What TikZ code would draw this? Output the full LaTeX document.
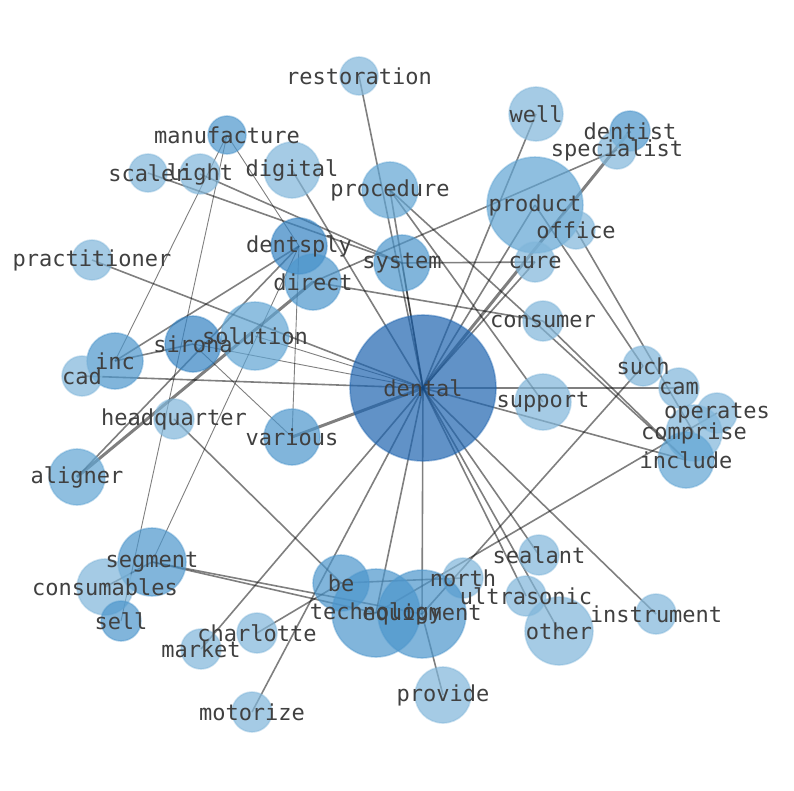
\documentclass[tikz,border=0pt]{standalone}
\usepackage{fontspec}
\newfontfamily\lblfont{DejaVu Sans Mono}
\pgfdeclarelayer{back}
\pgfdeclarelayer{bg}
\pgfsetlayers{back,bg,main}
\definecolor{cL}{RGB}{128,182,218}
\definecolor{cM}{RGB}{96,165,212}
\definecolor{cD}{RGB}{76,150,204}
\definecolor{cS}{RGB}{52,130,194}
\definecolor{cX}{RGB}{30,100,176}
\definecolor{lblgray}{RGB}{64,64,64}
\tikzset{
  nd/.style={circle, inner sep=0pt, fill=#1, fill opacity=0.7, draw=#1, draw opacity=0.4, line width=1.6pt},
  lbl/.style={font=\lblfont\fontsize{22}{22}\selectfont, text=lblgray, inner sep=0pt},
  ed/.style={draw=black, draw opacity=0.5, line width=1.6pt},
  edt/.style={draw=black, draw opacity=0.5, line width=0.9pt},
  edk/.style={draw=black, draw opacity=0.5, line width=3pt}
}
\begin{document}
\begin{tikzpicture}[x=1pt,y=-1pt]
\useasboundingbox (0,0) rectangle (794,790);
\begin{pgfonlayer}{back}
\fill[white] (0,0) rectangle (794,790);
\end{pgfonlayer}
% nodes
\node[nd=cL, minimum size=38pt] (restoration) at (359,76) {};
\node[nd=cL, minimum size=54pt] (well) at (536,114) {};
\node[nd=cD, minimum size=40pt] (dentist) at (630,131) {};
\node[nd=cL, minimum size=38pt] (specialist) at (617,150) {};
\node[nd=cD, minimum size=38pt] (manufacture) at (227,135) {};
\node[nd=cL, minimum size=56pt] (digital) at (292,170) {};
\node[nd=cL, minimum size=38pt] (scaler) at (148,173) {};
\node[nd=cL, minimum size=40pt] (light) at (200,174) {};
\node[nd=cM, minimum size=56pt] (procedure) at (390,190) {};
\node[nd=cM, minimum size=96pt] (product) at (535,205) {};
\node[nd=cL, minimum size=38pt] (office) at (576,230) {};
\node[nd=cS, minimum size=56pt] (dentsply) at (299,246) {};
\node[nd=cD, minimum size=56pt] (system) at (402,263) {};
\node[nd=cL, minimum size=40pt] (cure) at (535,262) {};
\node[nd=cL, minimum size=40pt] (practitioner) at (92,260) {};
\node[nd=cD, minimum size=56pt] (direct) at (313,282) {};
\node[nd=cL, minimum size=40pt] (consumer) at (543,321) {};
\node[nd=cM, minimum size=68pt] (solution) at (255,336) {};
\node[nd=cS, minimum size=56pt] (sirona) at (193,344) {};
\node[nd=cD, minimum size=56pt] (inc) at (115,361) {};
\node[nd=cL, minimum size=40pt] (cad) at (82,376) {};
\node[nd=cX, minimum size=146pt] (dental) at (423,388) {};
\node[nd=cL, minimum size=40pt] (such) at (643,366) {};
\node[nd=cL, minimum size=40pt] (cam) at (679,388) {};
\node[nd=cL, minimum size=56pt] (support) at (543,402) {};
\node[nd=cL, minimum size=40pt] (operates) at (717,413) {};
\node[nd=cL, minimum size=40pt] (headquarter) at (174,419) {};
\node[nd=cD, minimum size=56pt] (various) at (292,437) {};
\node[nd=cL, minimum size=56pt] (comprise) at (694,433) {};
\node[nd=cM, minimum size=56pt] (include) at (686,460) {};
\node[nd=cM, minimum size=56pt] (aligner) at (77,477) {};
\node[nd=cD, minimum size=68pt] (segment) at (152,562) {};
\node[nd=cL, minimum size=40pt] (sealant) at (539,555) {};
\node[nd=cL, minimum size=56pt] (consumables) at (105,587) {};
\node[nd=cL, minimum size=40pt] (north) at (463,578) {};
\node[nd=cD, minimum size=56pt] (be) at (341,583) {};
\node[nd=cL, minimum size=40pt] (ultrasonic) at (526,596) {};
\node[nd=cD, minimum size=88pt] (technology) at (376,613) {};
\node[nd=cD, minimum size=88pt] (equipment) at (422,614) {};
\node[nd=cL, minimum size=68pt] (other) at (559,631) {};
\node[nd=cL, minimum size=40pt] (instrument) at (656,614) {};
\node[nd=cD, minimum size=40pt] (sell) at (121,621) {};
\node[nd=cL, minimum size=40pt] (charlotte) at (257,633) {};
\node[nd=cL, minimum size=40pt] (market) at (201,649) {};
\node[nd=cL, minimum size=56pt] (provide) at (443,695) {};
\node[nd=cL, minimum size=40pt] (motorize) at (252,712) {};
% edges
\begin{pgfonlayer}{bg}
\foreach \t in {restoration,well,procedure,system,digital,product,practitioner,cad,cam,include,market,motorize,technology,equipment,ultrasonic,other,instrument,sealant,cure}
  \draw[ed] (dental.center) -- (\t.center);
\draw[edk] (dental.center) -- (dentist.center);
\draw[edk] (dental.center) -- (various.center);
\draw[edt] (dental.center) -- (solution.center);
\draw[edt] (dental.center) -- (sirona.center);
\draw[ed] (system.center) -- (cure.center);
\draw[ed] (system.center) -- (scaler.center);
\draw[ed] (system.center) -- (light.center);
\draw[ed] (dentsply.center) -- (inc.center);
\draw[ed] (dentsply.center) -- (aligner.center);
\draw[edt] (dentsply.center) -- (manufacture.center);
\draw[edt] (dentsply.center) -- (various.center);
\draw[edt] (dentsply.center) -- (segment.center);
\draw[edk] (direct.center) -- (aligner.center);
\draw[ed] (direct.center) -- (consumer.center);
\draw[ed] (direct.center) -- (specialist.center);
\draw[edt] (manufacture.center) -- (sell.center);
\draw[edt] (manufacture.center) -- (inc.center);
\draw[ed] (inc.center) -- (sirona.center);
\draw[edt] (sirona.center) -- (various.center);
\draw[ed] (headquarter.center) -- (be.center);
\draw[ed] (charlotte.center) -- (be.center);
\draw[ed] (be.center) -- (north.center);
\draw[ed] (segment.center) -- (technology.center);
\draw[ed] (segment.center) -- (equipment.center);
\draw[ed] (segment.center) -- (consumables.center);
\draw[ed] (equipment.center) -- (provide.center);
\draw[ed] (equipment.center) -- (such.center);
\draw[ed] (technology.center) -- (operates.center);
\draw[ed] (procedure.center) -- (support.center);
\draw[ed] (procedure.center) -- (include.center);
\draw[ed] (consumer.center) -- (include.center);
\draw[ed] (product.center) -- (such.center);
\draw[ed] (office.center) -- (comprise.center);
\end{pgfonlayer}
% labels
\foreach \t in {restoration,well,dentist,specialist,manufacture,digital,scaler,light,procedure,product,office,dentsply,system,cure,practitioner,direct,consumer,solution,sirona,inc,cad,dental,such,cam,support,operates,headquarter,various,comprise,include,aligner,segment,sealant,consumables,north,be,ultrasonic,technology,equipment,other,instrument,sell,charlotte,market,provide,motorize}
  \node[lbl] (\t-t) at (\t) {\t};
\end{tikzpicture}
\end{document}
